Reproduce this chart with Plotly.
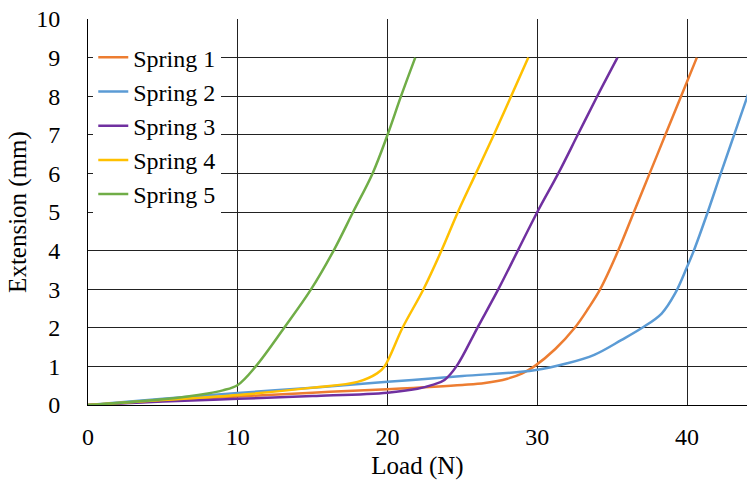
import plotly.graph_objects as go

names = ["Spring 1", "Spring 2", "Spring 3", "Spring 4", "Spring 5"]
colors = ["#ED7D31", "#5B9BD5", "#7030A0", "#FFC000", "#70AD47"]

s1_load = [0, 5, 10, 15, 20, 25, 26.5, 28, 29, 29.8, 31.2, 32.5, 33.4, 34.2, 35.4, 36.45, 37.5, 38.55, 39.6, 40.65]
s1_ext = [0, 0.11, 0.22, 0.32, 0.41, 0.52, 0.57, 0.68, 0.82, 1.0, 1.45, 2.0, 2.5, 3.0, 4.0, 5.0, 6.0, 7.0, 8.0, 9.0]

s2_load = [0, 5, 10, 15, 20, 25, 29.8, 32, 33.8, 35.6, 37, 38.3, 39.2, 40, 40.45, 41.38, 42.25, 43.14, 44.03, 44.9]
s2_ext = [0, 0.16, 0.31, 0.45, 0.6, 0.75, 0.9, 1.08, 1.3, 1.68, 2.0, 2.37, 2.89, 3.58, 4.0, 5.0, 6.0, 7.0, 8.0, 9.0]

s3_load = [0, 5, 10, 15, 20, 22, 23, 23.8, 24.6, 26, 27.4, 28.7, 30, 31.4, 32.7, 34, 35.35]
s3_ext = [0, 0.09, 0.16, 0.23, 0.32, 0.42, 0.52, 0.65, 1.0, 2.0, 3.0, 4.0, 5.0, 6.0, 7.0, 8.0, 9.0]

s4_load = [0, 5, 10, 15, 18, 19.3, 19.8, 21, 22.4, 23.6, 24.7, 25.9, 27.1, 28.25, 29.4]
s4_ext = [0, 0.13, 0.26, 0.45, 0.6, 0.82, 1.0, 2.0, 3.0, 4.0, 5.0, 6.0, 7.0, 8.0, 9.0]

s5_load = [0, 5, 8, 9, 10, 11.2, 13.1, 14.9, 16.4, 17.7, 19.0, 20.0, 20.9, 21.85]
s5_ext = [0, 0.15, 0.3, 0.38, 0.52, 1.0, 2.0, 3.0, 4.0, 5.0, 6.0, 7.0, 8.0, 9.0]

x_ticks = [0, 10, 20, 30, 40]
y_ticks = list(range(0, 11))

series = [(s1_load, s1_ext), (s2_load, s2_ext), (s3_load, s3_ext), (s4_load, s4_ext), (s5_load, s5_ext)]

fig = go.Figure()
for name, color, (xs, ys) in zip(names, colors, series):
    fig.add_trace(go.Scatter(x=xs, y=ys, name=name, legendgroup=name, mode="lines",
                             line=dict(color=color, width=2.5, shape="spline", smoothing=1.0)))

serif = "Liberation Serif, DejaVu Serif, serif"
fig.update_layout(
    width=747, height=480,
    margin=dict(l=88, r=0, t=19, b=75, autoexpand=False),
    paper_bgcolor="white", plot_bgcolor="white",
    font=dict(family=serif, size=24, color="black"),
    showlegend=True,
    legend=dict(x=0.008, y=0.958, xanchor="left", yanchor="top",
                bgcolor="white", font=dict(size=24, family=serif),
                itemwidth=30, tracegroupgap=0),
    xaxis=dict(range=[0, 44], tickvals=x_ticks, showgrid=True, gridcolor="#222222", gridwidth=1,
               showline=True, linecolor="black", linewidth=1, zeroline=False, automargin=False,
               ticks="", ticklabelstandoff=10, tickfont=dict(family=serif, size=24),
               title=dict(text="Load (N)", font=dict(size=25, family=serif), standoff=8)),
    yaxis=dict(range=[0, 10], tickvals=y_ticks, showgrid=True, gridcolor="#222222", gridwidth=1,
               showline=True, linecolor="black", linewidth=1, zeroline=False, automargin=False,
               ticks="", ticklabelstandoff=22, tickfont=dict(family=serif, size=24),
               title=dict(text="Extension (mm)", font=dict(size=25, family=serif), standoff=2)),
)

fig.write_html("out.html", config={"displayModeBar": False},
               post_script="document.body.style.margin='0';")
